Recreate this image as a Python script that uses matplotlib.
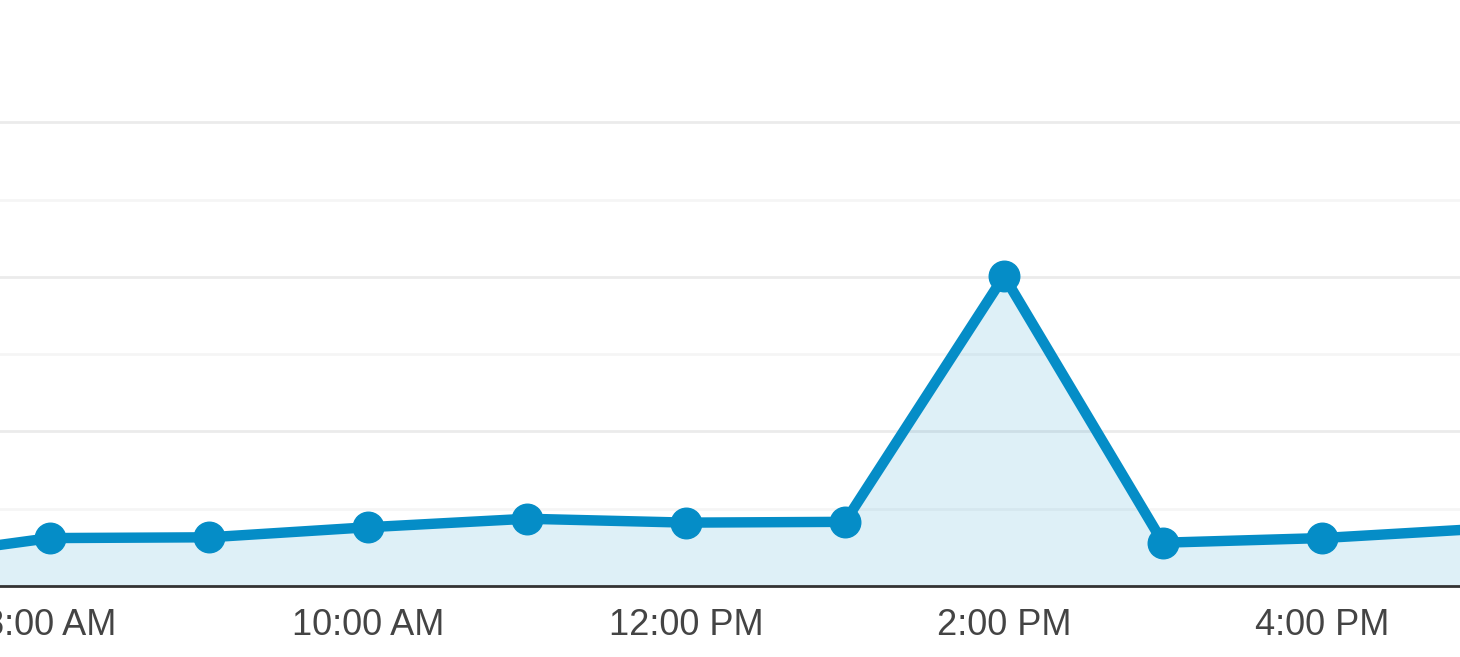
import numpy as np
import matplotlib
matplotlib.use("Agg")
import matplotlib.pyplot as plt

# hourly values (7 AM .. 5 PM)
hours = [7, 8, 9, 10, 11, 12, 13, 14, 15, 16, 17]
values = [3.4, 6.2, 6.3, 7.6, 8.7, 8.2, 8.3, 40.1, 5.6, 6.2, 7.4]
tick_hours = [8, 10, 12, 14, 16]
tick_labels = ["8:00 AM", "10:00 AM", "12:00 PM", "2:00 PM", "4:00 PM"]
grid_major = [20, 40, 60]
grid_minor = [10, 30, 50]

line_color = "#058dc7"

fig = plt.figure(figsize=(14.6, 6.57), dpi=100)
ax = fig.add_axes([0, 71 / 657, 1, 586 / 657])

for g in grid_major:
    ax.axhline(g, color="#ebebeb", lw=2, zorder=0)
for g in grid_minor:
    ax.axhline(g, color="#f5f5f5", lw=2, zorder=0)

ax.fill_between(hours, values, 0, color=line_color, alpha=0.13, lw=0, zorder=1)
ax.plot(hours, values, color=line_color, lw=7.5, marker="o", markersize=22,
        solid_joinstyle="round", zorder=3)

ax.set_xlim(8 - 50 / 159, 8 + (1460 - 50) / 159)
ax.set_ylim(0, 586 / 7.73)

ax.set_xticks(tick_hours)
ax.set_xticklabels(tick_labels, fontsize=26, color="#444444", family="Liberation Sans")
ax.tick_params(axis="x", length=0, pad=16)
ax.set_yticks([])

for s in ["top", "left", "right"]:
    ax.spines[s].set_visible(False)
ax.spines["bottom"].set_color("#333333")
ax.spines["bottom"].set_linewidth(2)

fig.savefig("out.png", dpi=100)
